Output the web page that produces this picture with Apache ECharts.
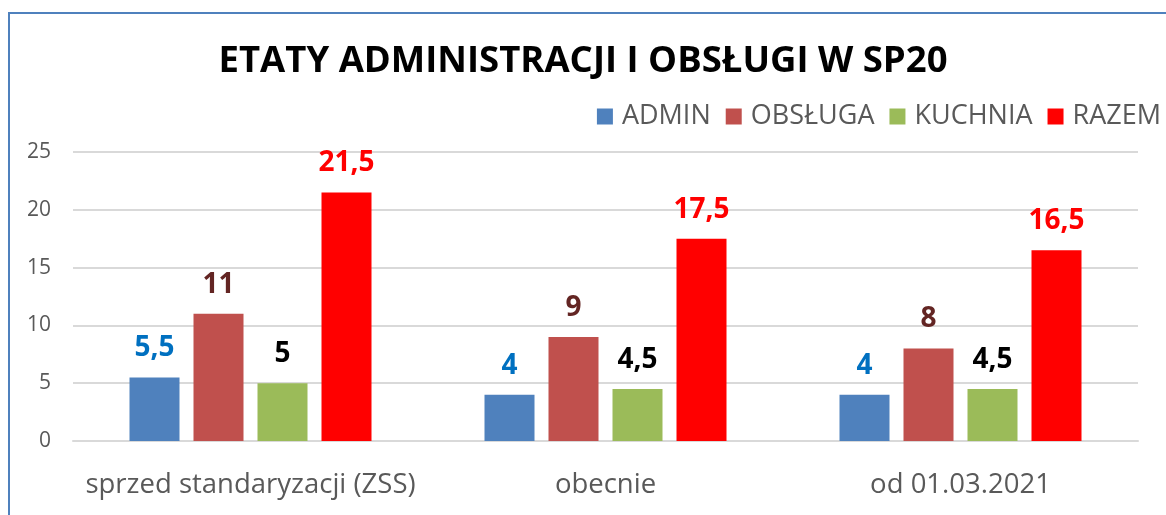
<!DOCTYPE html>
<html>
<head>
<meta charset="utf-8">
<script src="https://cdn.jsdelivr.net/npm/echarts@6/dist/echarts.min.js"></script>
<style>
  html, body { margin: 0; padding: 0; background: #fff; }
  #frame {
    position: absolute; left: 8px; top: 12px; width: 1170px; height: 520px;
    border-left: 2px solid #4f81bd; border-top: 2px solid #4f81bd;
  }
  #chart { position: absolute; left: 0; top: 0; width: 1166px; height: 515px; }
</style>
</head>
<body>
<div id="frame"></div>
<div id="chart"></div>
<script>
const categories = ['sprzed standaryzacji (ZSS)', 'obecnie', 'od 01.03.2021']
const admin = [5.5, 4, 4]
const obsluga = [11, 9, 8]
const kuchnia = [5, 4.5, 4.5]
const razem = [21.5, 17.5, 16.5]

const font = '"Open Sans", "DejaVu Sans", sans-serif'
const chart = echarts.init(document.getElementById('chart'))

// etykiety z przecinkiem jak w oryginale
const fmt = p => String(p.value).replace('.', ',')

function bar(name, data, color, labelColor) {
    return {
        name,
        type: 'bar',
        data,
        barWidth: 50,
        barGap: '28%',
        itemStyle: { color },
        label: {
            show: true,
            position: 'top',
            distance: 15,
            formatter: fmt,
            color: labelColor,
            fontFamily: font,
            fontWeight: 'bold',
            fontSize: 28
        }
    }
}

chart.setOption({
    animation: false,
    title: {
        text: 'ETATY ADMINISTRACJI I OBSŁUGI W SP20',
        left: 'center',
        top: 38,
        textStyle: { fontFamily: font, fontWeight: 'bold', fontSize: 36.5, color: '#000' }
    },
    legend: {
        right: 0,
        top: 98,
        itemWidth: 16,
        itemHeight: 16,
        itemGap: 15,
        icon: 'rect',
        textStyle: { fontFamily: font, fontSize: 27, color: '#595959', padding: [0, 0, 0, 4] }
    },
    grid: { left: 73, right: 28, top: 152, bottom: 74 },
    xAxis: {
        type: 'category',
        data: categories,
        axisTick: { show: false },
        axisLine: { lineStyle: { color: '#d9d9d9', width: 2 } },
        axisLabel: { interval: 0, fontFamily: font, fontSize: 27.5, color: '#595959', margin: 30 }
    },
    yAxis: {
        type: 'value',
        min: 0,
        max: 25,
        interval: 5,
        axisLabel: { fontFamily: font, fontSize: 21, color: '#595959', margin: 22 },
        splitLine: { lineStyle: { color: '#d9d9d9', width: 2 } }
    },
    series: [
        bar('ADMIN', admin, '#4f81bd', '#0070c0'),
        bar('OBSŁUGA', obsluga, '#c0504d', '#632523'),
        bar('KUCHNIA', kuchnia, '#9bbb59', '#000000'),
        bar('RAZEM', razem, '#ff0000', '#ff0000')
    ]
})
</script>
</body>
</html>
